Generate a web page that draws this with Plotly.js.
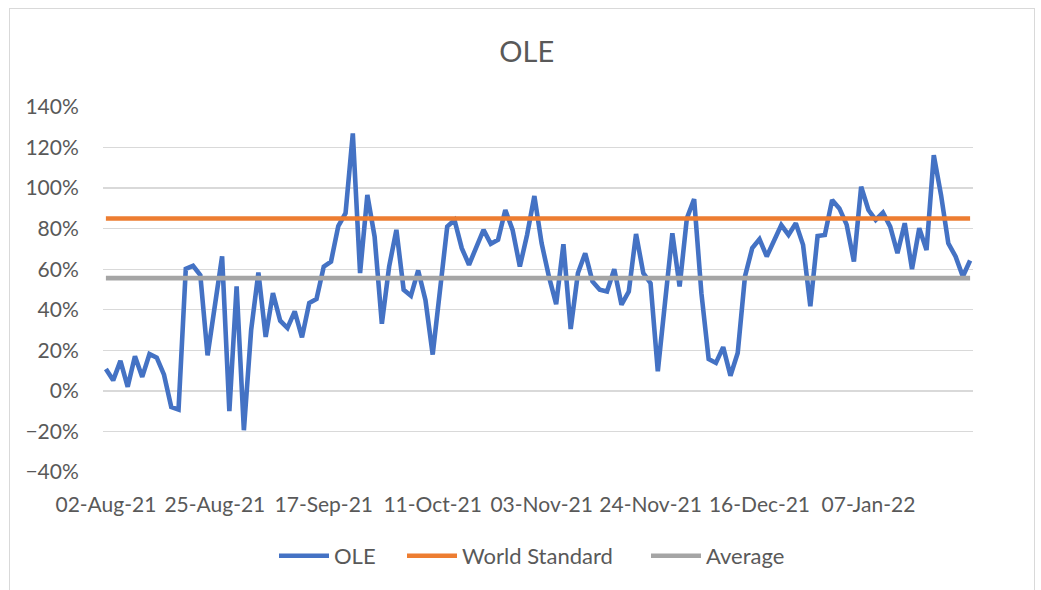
<!DOCTYPE html>
<html>
<head>
<meta charset="utf-8">
<script src="https://cdn.plot.ly/plotly-3.0.1.min.js"></script>
<style>
  html, body { margin: 0; padding: 0; background: #ffffff; }
  #chart { width: 1041px; height: 590px; position: relative; }
  #frame { position: absolute; left: 9px; top: 8px; width: 1026px; height: 600px;
           border: 1px solid #d9d9d9; pointer-events: none; box-sizing: border-box; }
</style>
</head>
<body>
<div id="chart"></div>
<div id="frame"></div>
<script>
// Tick labels shown on the category axis (every 15th data point)
const tickLabels = ["02-Aug-21", "25-Aug-21", "17-Sep-21", "11-Oct-21",
                    "03-Nov-21", "24-Nov-21", "16-Dec-21", "07-Jan-22"];
const tickEvery = 15;

// OLE daily values (fraction)
const oleValues = [
  0.108, 0.052, 0.148, 0.020, 0.171, 0.069, 0.182, 0.164, 0.080, -0.079,
  -0.092, 0.602, 0.617, 0.571, 0.175, 0.420, 0.663, -0.100, 0.515, -0.194,
  0.300, 0.584, 0.266, 0.482, 0.346, 0.310, 0.392, 0.264, 0.433, 0.453,
  0.613, 0.638, 0.813, 0.876, 1.270, 0.581, 0.966, 0.761, 0.331, 0.613,
  0.794, 0.499, 0.469, 0.594, 0.449, 0.179, 0.499, 0.810, 0.843, 0.704,
  0.622, 0.707, 0.794, 0.725, 0.745, 0.892, 0.794, 0.613, 0.770, 0.961,
  0.728, 0.564, 0.428, 0.723, 0.305, 0.581, 0.679, 0.540, 0.499, 0.490,
  0.600, 0.425, 0.490, 0.774, 0.581, 0.531, 0.097, 0.440, 0.777, 0.515,
  0.851, 0.946, 0.482, 0.157, 0.138, 0.216, 0.075, 0.187, 0.564, 0.704,
  0.748, 0.663, 0.741, 0.818, 0.769, 0.827, 0.720, 0.417, 0.764, 0.769,
  0.941, 0.900, 0.820, 0.638, 1.007, 0.892, 0.843, 0.879, 0.810, 0.679,
  0.827, 0.600, 0.802, 0.695, 1.163, 0.966, 0.728, 0.663, 0.564, 0.643
];

const worldStandard = 0.85;
const averageValue = 0.556;

const yTickValues = [-0.4, -0.2, 0, 0.2, 0.4, 0.6, 0.8, 1.0, 1.2, 1.4];

const n = oleValues.length;
const xIdx = oleValues.map((_, i) => i);
const tickVals = tickLabels.map((_, i) => i * tickEvery);

const FONT = "Lato, 'Open Sans', sans-serif";
const TXT = "#595959";

const traces = [
  { x: xIdx, y: oleValues, name: "OLE", type: "scatter", mode: "lines",
    legend: "legend", line: { color: "#4472C4", width: 4.6, shape: "linear" } },
  { x: [0, n - 1], y: [worldStandard, worldStandard], name: "World Standard",
    legend: "legend2", type: "scatter", mode: "lines", line: { color: "#ED7D31", width: 4.6 } },
  { x: [0, n - 1], y: [averageValue, averageValue], name: "Average",
    legend: "legend3", type: "scatter", mode: "lines", line: { color: "#A5A5A5", width: 4.6 } }
];

function legendAt(px) {
  return { orientation: "h", xref: "container", x: px / 1041, xanchor: "left",
           yref: "container", y: 1 - 556 / 590, yanchor: "middle",
           font: { family: FONT, size: 22, color: TXT }, itemwidth: 50,
           bgcolor: "rgba(0,0,0,0)" };
}

const layout = {
  width: 1041, height: 590,
  paper_bgcolor: "#ffffff", plot_bgcolor: "#ffffff",
  margin: { l: 103, r: 68, t: 107, b: 117.5, pad: 0 },
  font: { family: FONT, color: TXT, size: 21 },
  title: { text: "OLE", font: { family: FONT, size: 29, color: TXT },
           xref: "container", x: 0.506, xanchor: "center",
           yref: "container", y: 0.912, yanchor: "middle" },
  xaxis: {
    range: [-0.4, n - 1 + 0.4], tickmode: "array", tickvals: tickVals, ticktext: tickLabels,
    showgrid: false, zeroline: false, showline: false,
    ticks: "outside", ticklen: 14, tickcolor: "rgba(0,0,0,0)",
    tickfont: { family: FONT, size: 21, color: TXT }, fixedrange: true
  },
  yaxis: {
    range: [-0.4, 1.4], tickmode: "array", tickvals: yTickValues,
    tickformat: ".0%", showgrid: true, gridcolor: "#d9d9d9", gridwidth: 1.3,
    zeroline: false, showline: false,
    ticks: "outside", ticklen: 19, tickcolor: "rgba(0,0,0,0)",
    tickfont: { family: FONT, size: 21, color: TXT }, fixedrange: true
  },
  showlegend: true,
  legend: legendAt(274),
  legend2: legendAt(402),
  legend3: legendAt(646)
};

Plotly.newPlot("chart", traces, layout, { staticPlot: true, displayModeBar: false });
</script>
</body>
</html>
